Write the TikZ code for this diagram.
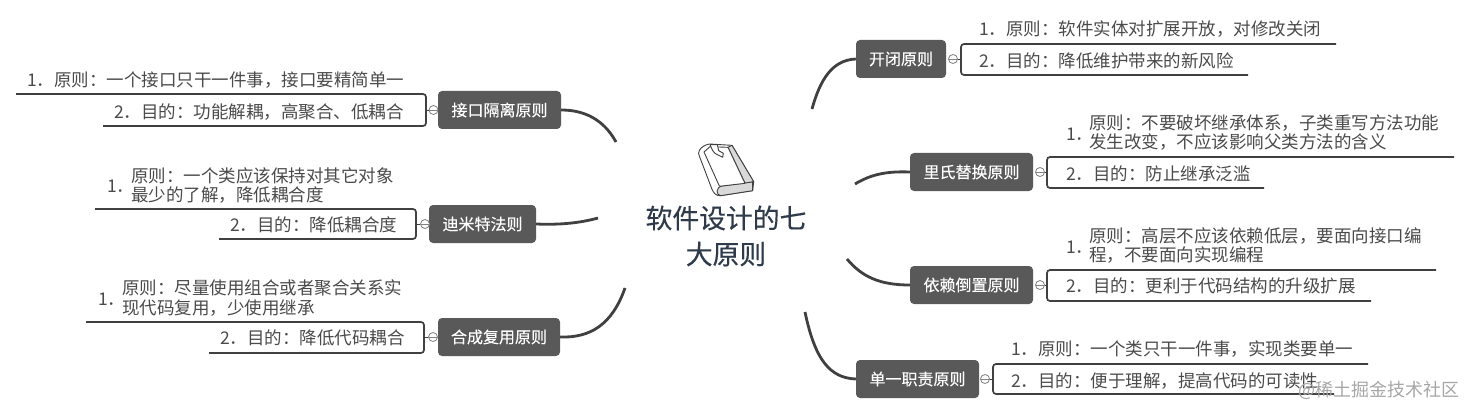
\documentclass[tikz,border=0pt]{standalone}
\usepackage{fontspec}
\setmainfont{Noto Sans CJK SC}
\newfontfamily\titlefont[FakeBold=0.35]{Noto Sans CJK SC}
\newfontfamily\topicfont[FakeBold=0.2]{Noto Sans CJK SC}
\usepackage{tikz}
\definecolor{topicgray}{HTML}{595959}
\definecolor{linegray}{HTML}{404040}
\definecolor{leafgray}{HTML}{4A4A4A}
\definecolor{titleblue}{HTML}{2F3B4A}
\tikzset{
  topic/.style={fill=topicgray, rounded corners=4pt, text=white, inner sep=0pt,
    font=\topicfont\fontsize{16}{18}\selectfont, minimum height=38pt},
  leaf/.style={anchor=west, inner sep=0pt, text=leafgray, align=left,
    font=\fontsize{17.5}{19.5}\selectfont},
  title/.style={inner sep=0pt, text=titleblue, font=\titlefont\fontsize{26.8}{36}\selectfont},
  fold/.style={circle, draw=gray, thick, fill=white, minimum size=9pt, inner sep=0pt,
    path picture={\draw [gray, thick] (path picture bounding box.west) -- (path picture bounding box.east);}},
  bracket/.style={line width=1.7pt, draw=linegray, rounded corners=3pt},
  branch/.style={line width=2.8pt, draw=linegray},
  bookline/.style={draw=linegray, line width=0.9pt, line join=round}
}
\begin{document}
\begin{tikzpicture}[x=1pt, y=-1pt]
    \useasboundingbox (0, 0) rectangle (1471, 414);

    % book
    \begin{scope}[shift={(630, 130)}, x=0.3333pt, y=-0.3333pt]
      \draw [bookline, fill=white]
        (208, 62) .. controls (212, 52) and (226, 44) .. (238, 42) -- (306, 46)
                  -- (371, 155) -- (368, 182) -- (272, 197)
                  .. controls (258, 198) and (252, 190) .. (246, 178) -- (208, 78)
                  .. controls (205, 72) and (205, 68) .. (208, 62) -- cycle;
      \draw [bookline, fill=gray!30!white]
        (306, 46) -- (371, 155) -- (345, 160) -- (294, 52) -- cycle;
      \draw [bookline, fill=gray!30!white]
        (368, 182) -- (272, 197) .. controls (258, 196) and (256, 172) .. (276, 168)
                   -- (368, 156) -- cycle;
      \draw [bookline, fill=white]
        (222, 66) -- (268, 168) .. controls (270, 168) and (274, 168) .. (276, 168)
                  -- (345, 160) -- (294, 52) -- (240, 50) -- cycle;
      \draw [bookline, fill=white]
        (240, 44) -- (262, 44) -- (266, 62) -- (280, 70) -- (278, 82)
                  -- (258, 72) .. controls (250, 68) and (246, 58) .. (240, 44) -- cycle;
    \end{scope}

    \node [title] (rootA) at (726, 218) {软件设计的七};
    \node [title] (rootB) at (726, 254) {大原则};

    % left side
    \node [topic, minimum width=123pt] (isp) at (499.5, 110) {接口隔离原则};
    \node [fold] (ispFold) at (433.5, 110) {};
    \node [leaf] (ispA) at (27, 80) {1．原则：一个接口只干一件事，接口要精简单一};
    \node [leaf] (ispB) at (114, 112) {2．目的：功能解耦，高聚合、低耦合};
    \coordinate (ispRoot) at (616, 142);
    \coordinate (ispTop) at (16, 94);
    \coordinate (ispBot) at (103, 126);
    \draw [branch] (isp.east) .. controls (585, 110) and (604, 120) .. (ispRoot);
    \draw [bracket] (ispTop) -- (426, 94) -- (426, 126) -- (ispBot);
    \draw [thick, linegray] (ispFold.west) -- (ispFold -| 426, 0);

    \node [topic, minimum width=107pt] (lod) at (482.5, 224) {迪米特法则};
    \node [fold] (lodFold) at (425, 224) {};
    \node [leaf] (lodA) at (107, 186) {1．};
    \node [leaf] (lodAA) at (131, 185.5) {原则：一个类应该保持对其它对象\\最少的了解，降低耦合度};
    \node [leaf] (lodB) at (230, 225) {2．目的：降低耦合度};
    \coordinate (lodRoot) at (598, 218);
    \coordinate (lodTop) at (95, 209);
    \coordinate (lodBot) at (219, 239);
    \draw [branch] (lod.east) .. controls (560, 225) and (580, 223) .. (lodRoot);
    \draw [bracket] (lodTop) -- (416, 209) -- (416, 239) -- (lodBot);
    \draw [thick, linegray] (lodFold.west) -- (lodFold -| 416, 0);

    \node [topic, minimum width=122pt] (crp) at (499, 337) {合成复用原则};
    \node [fold] (crpFold) at (433, 337) {};
    \node [leaf] (crpA) at (98, 299) {1．};
    \node [leaf] (crpAA) at (122, 298) {原则：尽量使用组合或者聚合关系实\\现代码复用，少使用继承};
    \node [leaf] (crpB) at (220, 338) {2．目的：降低代码耦合};
    \coordinate (crpRoot) at (625, 288);
    \coordinate (crpTop) at (86, 322);
    \coordinate (crpBot) at (209, 353);
    \draw [branch] (crp.east) .. controls (590, 338) and (612, 325) .. (crpRoot);
    \draw [bracket] (crpTop) -- (424, 322) -- (424, 353) -- (crpBot);
    \draw [thick, linegray] (crpFold.west) -- (crpFold -| 424, 0);

    % right side
    \node [topic, minimum width=90pt] (ocp) at (901, 59) {开闭原则};
    \node [fold] (ocpFold) at (953, 59) {};
    \node [leaf] (ocpA) at (979, 29) {1．原则：软件实体对扩展开放，对修改关闭};
    \node [leaf] (ocpB) at (979, 61) {2．目的：降低维护带来的新风险};
    \coordinate (ocpRoot) at (812, 109);
    \coordinate (ocpTop) at (1336, 44);
    \coordinate (ocpBot) at (1248, 75);
    \draw [branch] (ocp.west) .. controls (832, 60) and (820, 80) .. (ocpRoot);
    \draw [bracket] (ocpTop) -- (961, 44) -- (961, 75) -- (ocpBot);
    \draw [thick, linegray] (ocpFold.east) -- (ocpFold -| 961, 0);

    \node [topic, minimum width=123pt] (lsp) at (971.5, 172) {里氏替换原则};
    \node [fold] (lspFold) at (1040, 172) {};
    \node [leaf] (lspA) at (1066, 134) {1．};
    \node [leaf] (lspAA) at (1089, 132.5) {原则：不要破坏继承体系，子类重写方法功能\\发生改变，不应该影响父类方法的含义};
    \node [leaf] (lspB) at (1066, 174) {2．目的：防止继承泛滥};
    \coordinate (lspRoot) at (855, 184);
    \coordinate (lspTop) at (1454, 157);
    \coordinate (lspBot) at (1264, 188);
    \draw [branch] (lsp.west) .. controls (885, 171) and (870, 175) .. (lspRoot);
    \draw [bracket] (lspTop) -- (1047, 157) -- (1047, 188) -- (lspBot);
    \draw [thick, linegray] (lspFold.east) -- (lspFold -| 1047, 0);

    \node [topic, minimum width=123pt] (dip) at (971.5, 285) {依赖倒置原则};
    \node [fold] (dipFold) at (1040, 285) {};
    \node [leaf] (dipA) at (1066, 247) {1．};
    \node [leaf] (dipAA) at (1089, 245.5) {原则：高层不应该依赖低层，要面向接口编\\程，不要面向实现编程};
    \node [leaf] (dipB) at (1066, 286) {2．目的：更利于代码结构的升级扩展};
    \coordinate (dipRoot) at (847, 259);
    \coordinate (dipTop) at (1436, 270);
    \coordinate (dipBot) at (1371, 301);
    \draw [branch] (dip.west) .. controls (880, 285) and (862, 277) .. (dipRoot);
    \draw [bracket] (dipTop) -- (1047, 270) -- (1047, 301) -- (dipBot);
    \draw [thick, linegray] (dipFold.east) -- (dipFold -| 1047, 0);

    \node [topic, minimum width=123pt] (srp) at (917.5, 379) {单一职责原则};
    \node [fold] (srpFold) at (985, 379) {};
    \node [leaf] (srpA) at (1011, 349) {1．原则：一个类只干一件事，实现类要单一};
    \node [leaf] (srpB) at (1011, 381) {2．目的：便于理解，提高代码的可读性};
    \coordinate (srpRoot) at (805, 312);
    \coordinate (srpTop) at (1368, 364);
    \coordinate (srpBot) at (1334, 394);
    \draw [branch] (srp.west) .. controls (830, 378) and (815, 360) .. (srpRoot);
    \draw [bracket] (srpTop) -- (993, 364) -- (993, 394) -- (srpBot);
    \draw [thick, linegray] (srpFold.east) -- (srpFold -| 993, 0);

    \node [anchor=east, inner sep=0pt, text=gray!70!white, font=\fontsize{18}{20}\selectfont]
      (mark) at (1460, 390) {@稀土掘金技术社区};
\end{tikzpicture}
\end{document}
